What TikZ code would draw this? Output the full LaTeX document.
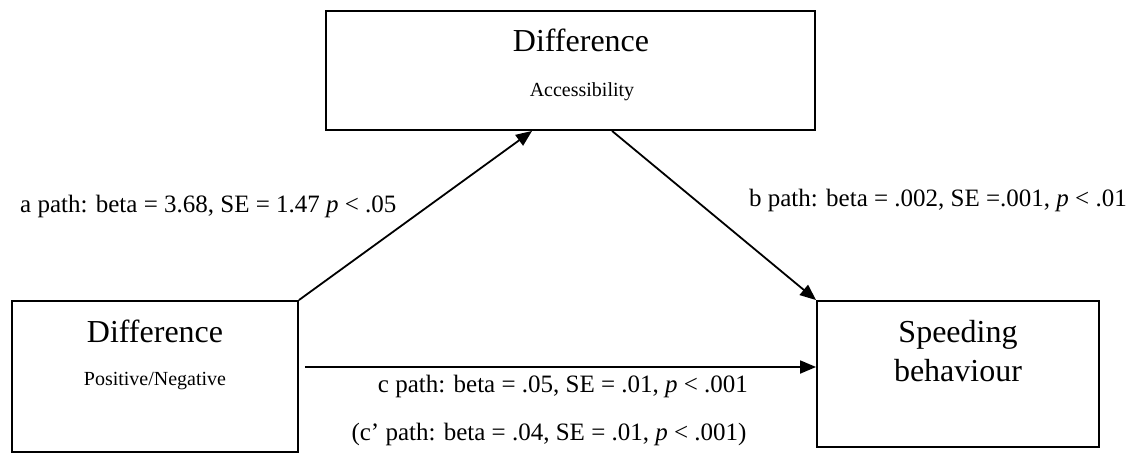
\documentclass[tikz,border=0pt]{standalone}
\usepackage{fontspec}
\setmainfont{Liberation Serif}
\usetikzlibrary{arrows.meta,calc}
\begin{document}
\begin{tikzpicture}[x=1pt,y=-1pt,
  box/.style={draw,line width=1.9pt,rectangle,inner sep=0pt},
  big/.style={font=\fontsize{32}{40}\selectfont,inner sep=0pt},
  sub/.style={font=\fontsize{20}{24}\selectfont,inner sep=0pt},
  lab/.style={font=\fontsize{25}{30}\selectfont,inner sep=0pt},
  arr/.style={line width=1.8pt,-{Triangle[length=16pt,width=13pt]}}]
\useasboundingbox (0,0) rectangle (1131,468);
% boxes
\node[box,minimum width=489pt,minimum height=119pt] (T) at (570.5,70.5) {};
\node[box,minimum width=286pt,minimum height=151pt] (L) at (155,376.5) {};
\node[box,minimum width=282pt,minimum height=146pt] (R) at (958,374) {};
% box texts
\node[big,anchor=base] (Tt) at (581,52) {Difference};
\node[sub,anchor=base] (Ts) at (582,96) {Accessibility};
\node[big,anchor=base] (Lt) at (155,342) {Difference};
\node[sub,anchor=base] (Ls) at (155,385) {Positive/Negative};
\node[big,anchor=base] (Rt1) at (958,342) {Speeding};
\node[big,anchor=base] (Rt2) at (958,381) {behaviour};
% connectors
\coordinate (cy) at (0,367);
\draw[arr] (L.north east) -- ([xshift=207pt]T.south west);
\draw[arr] ([xshift=287pt]T.south west) -- (R.north west);
\draw[arr] ($(L.east|-cy)+(6,0)$) -- (R.west|-cy);
% labels
\node[lab,anchor=base west] (la) at (20,212) {a path: beta = 3.68, SE = 1.47 \textit{p} < .05};
\node[lab,anchor=base east] (lb) at (1127,206) {b path: beta = .002, SE =.001, \textit{p} < .01};
\node[lab,anchor=base] (lc) at (563,392) {c path: beta = .05, SE = .01, \textit{p} < .001};
\node[lab,anchor=base] (lc2) at (549,440) {(c’ path: beta = .04, SE = .01, \textit{p} < .001)};
\end{tikzpicture}
\end{document}
